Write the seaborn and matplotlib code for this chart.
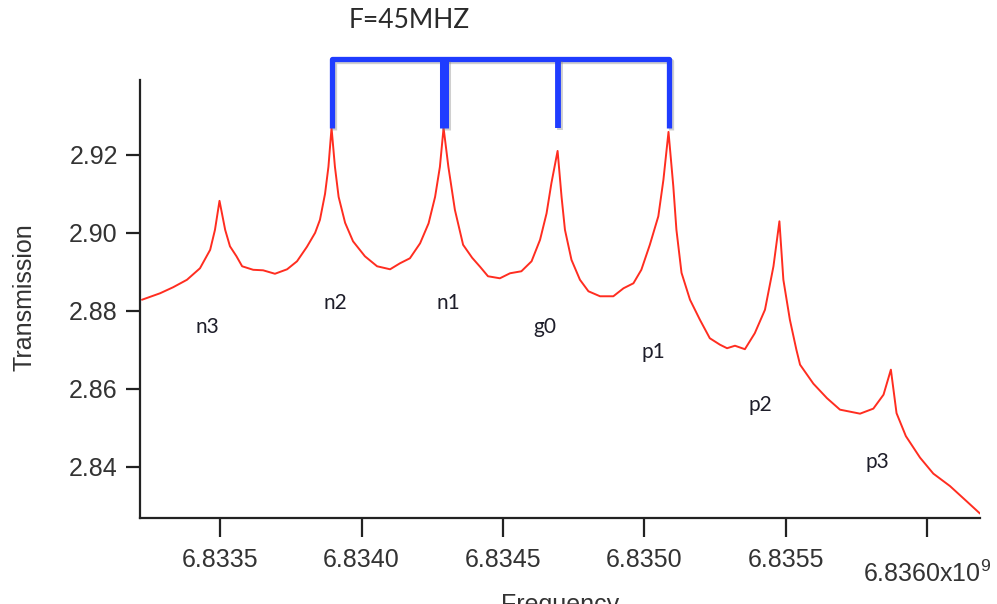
import matplotlib
matplotlib.use('Agg')
import matplotlib.pyplot as plt
import matplotlib.patheffects as pe
import pandas as pd
import seaborn as sns

# ---- data (frequency in GHz, transmission) ----
freq_ghz = [
    6.833224, 6.833288, 6.833334, 6.833383, 6.833429, 6.833465, 6.833482, 6.833498,
    6.833518, 6.833535, 6.833558, 6.833578, 6.833617, 6.833652, 6.833694, 6.833737,
    6.833772, 6.833807, 6.833836, 6.833853, 6.833871, 6.833883, 6.833894, 6.833906,
    6.833919, 6.833942, 6.833970, 6.834012, 6.834055, 6.834101, 6.834136, 6.834171,
    6.834207, 6.834237, 6.834260, 6.834277, 6.834290, 6.834307, 6.834330, 6.834359,
    6.834391, 6.834419, 6.834447, 6.834489, 6.834525, 6.834565, 6.834601, 6.834631,
    6.834654, 6.834671, 6.834693, 6.834707, 6.834719, 6.834742, 6.834772, 6.834802,
    6.834843, 6.834890, 6.834926, 6.834961, 6.834989, 6.835019, 6.835049, 6.835067,
    6.835085, 6.835102, 6.835113, 6.835131, 6.835161, 6.835196, 6.835231, 6.835267,
    6.835292, 6.835320, 6.835355, 6.835390, 6.835426, 6.835456, 6.835477, 6.835491,
    6.835514, 6.835537, 6.835550, 6.835597, 6.835645, 6.835691, 6.835762, 6.835809,
    6.835845, 6.835871, 6.835891, 6.835924, 6.835974, 6.836021, 6.836080, 6.836138,
    6.836186,
]
transmission = [
    2.88286, 2.88452, 2.88606, 2.88798, 2.89093, 2.89566, 2.90079, 2.90822,
    2.90079, 2.89656, 2.89400, 2.89144, 2.89054, 2.89041, 2.88952, 2.89067,
    2.89272, 2.89643, 2.90002, 2.90335, 2.91001, 2.91693, 2.92692, 2.91693,
    2.90924, 2.90258, 2.89784, 2.89400, 2.89144, 2.89067, 2.89221, 2.89349,
    2.89733, 2.90245, 2.90924, 2.91693, 2.92692, 2.91693, 2.90591, 2.89695,
    2.89362, 2.89131, 2.88888, 2.88836, 2.88965, 2.89016, 2.89272, 2.89823,
    2.90501, 2.91270, 2.92102, 2.90924, 2.90079, 2.89310, 2.88798, 2.88503,
    2.88375, 2.88375, 2.88580, 2.88708, 2.89054, 2.89695, 2.90425, 2.91360,
    2.92589, 2.91193, 2.90079, 2.88977, 2.88286, 2.87773, 2.87299, 2.87133,
    2.87043, 2.87107, 2.87018, 2.87428, 2.88030, 2.89144, 2.90297, 2.88798,
    2.87773, 2.87005, 2.86621, 2.86134, 2.85763, 2.85468, 2.85365, 2.85494,
    2.85852, 2.86493, 2.85378, 2.84789, 2.84238, 2.83828, 2.83508, 2.83124,
    2.82804,
]

peak_labels = ['n3', 'n2', 'n1', 'g0', 'p1', 'p2', 'p3']
label_freq = [6.833454, 6.833906, 6.834306, 6.834648, 6.835030, 6.835408, 6.835825]
label_trans = [2.87594, 2.88209, 2.88209, 2.87594, 2.86954, 2.85596, 2.84136]

bracket_freq = [6.833894, 6.834290, 6.834693, 6.835085]   # n2, n1, g0, p1
bracket_bottom = 2.9268
bracket_top = 2.94459

x_ticks = [6.8335, 6.8340, 6.8345, 6.8350, 6.8355, 6.8360]
x_tick_labels = ['6.8335', '6.8340', '6.8345', '6.8350', '6.8355', '6.8360x10$^{9}$']
y_ticks = [2.84, 2.86, 2.88, 2.90, 2.92]
y_tick_labels = ['2.84', '2.86', '2.88', '2.90', '2.92']

title_text = 'F=45MHZ'
x_label = 'Frequency'
y_label = 'Transmission'

# ---- styling ----
sns.set_theme(style='ticks')
plt.rcParams['font.family'] = ['Liberation Sans', 'DejaVu Sans']
plt.rcParams['mathtext.fontset'] = 'custom'
plt.rcParams['mathtext.rm'] = 'Liberation Sans'
plt.rcParams['mathtext.it'] = 'Liberation Sans'
plt.rcParams['mathtext.default'] = 'regular'

W, H = 997, 604
fig = plt.figure(figsize=(W / 100, H / 100), dpi=100)
fig.patch.set_facecolor('white')
ax = fig.add_axes([140 / W, 1 - 518 / H, 840 / W, 438 / H])
ax.set_facecolor('white')

df = pd.DataFrame({'freq': freq_ghz, 'T': transmission})
sns.lineplot(data=df, x='freq', y='T', ax=ax, color='#ff2d20', linewidth=1.4,
             estimator=None, sort=False)

ax.set_xlim(6.833217, 6.836186)
ax.set_ylim(2.8269, 2.9392)

ax.set_xticks(x_ticks)
ax.set_xticklabels(x_tick_labels)
ax.set_yticks(y_ticks)
ax.set_yticklabels(y_tick_labels)

for side in ['top', 'right']:
    ax.spines[side].set_visible(False)
for side in ['left', 'bottom']:
    ax.spines[side].set_color('#222222')
    ax.spines[side].set_linewidth(1.6)

ax.tick_params(axis='x', length=13.5, width=1.6, color='#222222', pad=8,
               labelsize=18, labelcolor='#333333', direction='out')
ax.tick_params(axis='y', length=10, width=1.6, color='#222222', pad=6,
               labelsize=18, labelcolor='#333333', direction='out')
ax.grid(False)

# shift the last (exponent) tick label down a bit
last = ax.get_xticklabels()[-1]
last.set_y(-0.028)

ax.set_xlabel(x_label, fontsize=18, color='#333333')
ax.xaxis.set_label_coords(0.5, -0.171)
ax.set_ylabel(y_label, fontsize=18, color='#333333')
ax.yaxis.set_label_coords(-0.123, 0.505)

# peak labels
for lab, fx, ty in zip(peak_labels, label_freq, label_trans):
    ax.text(fx, ty, lab, fontsize=15, family=['Lato', 'DejaVu Sans'],
            color='#1e1e2a', ha='center', va='center')

# blue bracket
blue = '#1f3cff'
shadow = [pe.SimpleLineShadow(offset=(1.5, -1.5), shadow_color='#777777', alpha=0.35),
          pe.Normal()]
ax.plot([bracket_freq[0], bracket_freq[0], bracket_freq[3], bracket_freq[3]],
        [bracket_bottom, bracket_top, bracket_top, bracket_bottom],
        color=blue, linewidth=3.8, solid_joinstyle='round', solid_capstyle='butt',
        clip_on=False, path_effects=shadow, zorder=5)
ax.plot([bracket_freq[1], bracket_freq[1]], [bracket_bottom, bracket_top],
        color=blue, linewidth=6.5, solid_capstyle='butt', clip_on=False,
        path_effects=shadow, zorder=5)
ax.plot([bracket_freq[2], bracket_freq[2]], [bracket_bottom, bracket_top],
        color=blue, linewidth=4.2, solid_capstyle='butt', clip_on=False,
        path_effects=shadow, zorder=5)

fig.text(409 / W, 1 - 20 / H, title_text, fontsize=19, family=['Lato', 'DejaVu Sans'],
         color='#2a2a2a', ha='center', va='center')

fig.savefig('out.png', dpi=100, facecolor='white')
